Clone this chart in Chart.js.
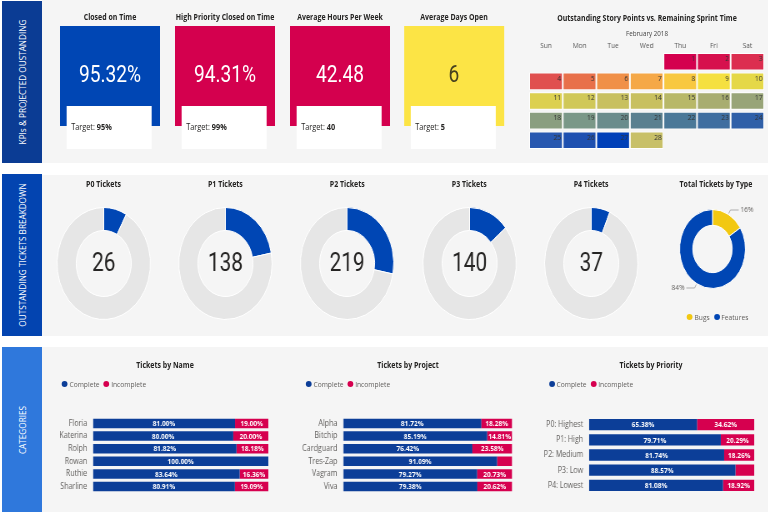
<!DOCTYPE html>
<html>
<head>
<meta charset="utf-8">
<script src="https://cdn.jsdelivr.net/npm/chart.js@4.4.0/dist/chart.umd.min.js"></script>
<style>
body { margin: 0; width: 768px; height: 512px; background: #fff; position: relative; overflow: hidden;
       font-family: "Open Sans", sans-serif; color: #252423; }
.abs { position: absolute; }
.band { position: absolute; left: 42px; width: 726px; background: #f5f5f5; }
.side { position: absolute; left: 2px; width: 40px; }
.side span { position: absolute; left: 50%; top: 50%; transform: translate(-50%, -50%) rotate(-90deg);
             white-space: nowrap; font-size: 8.2px; color: #fff; }
/* hela innehållet ritas 1.2 gånger bredare och trycks sedan ihop, som i originalet */
#stage { position: absolute; left: 0; top: 0; width: 921.6px; height: 512px; transform: scaleX(0.8333333); transform-origin: 0 0; }
.ttl { position: absolute; font-weight: 700; font-size: 8.4px; line-height: 11px; transform: translateX(-50%); white-space: nowrap; color: #252423; }
.sub { position: absolute; font-size: 7.5px; line-height: 9px; transform: translateX(-50%); white-space: nowrap; color: #444; }
.card { position: absolute; height: 100px; top: 26px; }
.card .val { position: absolute; left: 0; right: 0; top: 35px; text-align: center; font-family: Roboto, sans-serif; font-weight: 400; font-size: 23px; line-height: 28px; }
.tgt { position: absolute; height: 43px; top: 106px; background: #fff; }
.tgt span { position: absolute; left: 5px; top: 16px; font-size: 8.8px; line-height: 11px; white-space: nowrap; }
.leg { position: absolute; font-size: 8px; line-height: 10px; color: #605e5c; white-space: nowrap; }
.leg i { display: inline-block; width: 7px; height: 6px; border-radius: 50%; margin: 0 2px 0 0; vertical-align: 0px; }
.leg em { font-style: normal; margin-right: 5px; }
</style>
</head>
<body>
<div class="band" style="top:0;height:163px"></div>
<div class="band" style="top:175px;height:161px"></div>
<div class="band" style="top:347px;height:165px"></div>
<div class="side" style="top:1px;height:162px;background:#0b3c94"><span>KPIs &amp; PROJECTED OUSTANDING</span></div>
<div class="side" style="top:174px;height:162px;background:#0344b0"><span>OUTSTANDING TICKETS BREAKDOWN</span></div>
<div class="side" style="top:347px;height:165px;background:#2f78dc"><span>CATEGORIES</span></div>
<div id="stage"></div>

<script>
// KPI-kort
const kpiTitles = ['Closed on Time', 'High Priority Closed on Time', 'Average Hours Per Week', 'Average Days Open'];
const kpiValues = ['95.32%', '94.31%', '42.48', '6'];
const kpiTargets = ['95%', '99%', '40', '5'];

// Kalender, februari 2018
const weekdayNames = ['Sun', 'Mon', 'Tue', 'Wed', 'Thu', 'Fri', 'Sat'];
const weekRows = ['W1', 'W2', 'W3', 'W4', 'W5'];
const calendarDays = [1, 2, 3, 4, 5, 6, 7, 8, 9, 10, 11, 12, 13, 14, 15, 16, 17, 18, 19, 20, 21, 22, 23, 24, 25, 26, 27, 28];
const dayColors = ['#d4004e', '#d6104d', '#dc2e50', '#e0504f', '#e8704a', '#f09048', '#f5a847', '#f8c840',
                   '#f5e040', '#e5d848', '#dcd050', '#d0c858', '#c8c060', '#c8c060', '#b8b868', '#a8ad70',
                   '#98a478', '#8a9e80', '#7a9888', '#6a8c8c', '#5a8090', '#4a7898', '#3f6ea0', '#3060a8',
                   '#2858b0', '#1e50b0', '#0040b8', '#c8c068'];

// Utestående ärenden per prioritet
const priorityTitles = ['P0 Tickets', 'P1 Tickets', 'P2 Tickets', 'P3 Tickets', 'P4 Tickets'];
const outstandingCounts = [26, 138, 219, 140, 37];
const outstandingShare = [8, 22, 28, 14, 6.5];

// Ärenden per typ
const typeLabels = ['Bugs', 'Features'];
const typeShares = [16, 84];

// Staplar
const seriesNames = ['Complete', 'Incomplete'];
const nameLabels = ['Floria', 'Katerina', 'Rolph', 'Rowan', 'Ruthie', 'Sharline'];
const nameComplete = [81.00, 80.00, 81.82, 100.00, 83.64, 80.91];
const nameIncomplete = [19.00, 20.00, 18.18, 0, 16.36, 19.09];
const projectLabels = ['Alpha', 'Bitchip', 'Cardguard', 'Tres-Zap', 'Vagram', 'Viva'];
const projectComplete = [81.72, 85.19, 76.42, 91.09, 79.27, 79.38];
const projectIncomplete = [18.28, 14.81, 23.58, 8.91, 20.73, 20.62];
const priorityLabels = ['P0: Highest', 'P1: High', 'P2: Medium', 'P3: Low', 'P4: Lowest'];
const priorityComplete = [65.38, 79.71, 81.74, 88.57, 81.08];
const priorityIncomplete = [34.62, 20.29, 18.26, 11.43, 18.92];

const BLUE = '#0046b4';
const DARKBLUE = '#0c3e98';
const RED = '#d6004f';
const YELLOW = '#f2c811';
const SANS = '"Open Sans", sans-serif';
const S = 1.2; // horisontell sträckning

const stage = document.getElementById('stage');
const X = v => v * S;

function add(html) {
    stage.insertAdjacentHTML('beforeend', html);
    return stage.lastElementChild;
}

function canvasBox(left, top, w, h) {
    const box = add(`<div class="abs" style="left:${left}px;top:${top}px;width:${w}px;height:${h}px"><canvas></canvas></div>`);
    return box.querySelector('canvas');
}

const baseOptions = {
    animation: false,
    responsive: true,
    maintainAspectRatio: false,
    plugins: { legend: { display: false }, tooltip: { enabled: false } }
};

// KPI-kort
const cardLeft = [60, 175, 290, 404];
const cardColors = ['#0046b4', '#d4004e', '#d4004e', '#fce445'];
kpiTitles.forEach((title, i) => {
    const x = cardLeft[i];
    add(`<div class="ttl" style="left:${X(x + 50)}px;top:11px">${title}</div>`);
    add(`<div class="card" style="left:${X(x)}px;width:${X(100)}px;background:${cardColors[i]}"><div class="val" style="color:${i === 3 ? '#47421f' : '#fff'}">${kpiValues[i]}</div></div>`);
    add(`<div class="tgt" style="left:${X(x + 7)}px;width:${X(85)}px"><span>Target: <b>${kpiTargets[i]}</b></span></div>`);
});

// Kalendern
add(`<div class="ttl" style="left:${X(647)}px;top:12px">Outstanding Story Points vs. Remaining Sprint Time</div>`);
add(`<div class="sub" style="left:${X(647)}px;top:29px">February 2018</div>`);

const firstWeekday = 4; // 1 feb 2018 var en torsdag
const calendarData = calendarDays.map(day => {
    const pos = day - 1 + firstWeekday;
    return { x: [pos % 7, pos % 7 + 1], y: weekRows[Math.floor(pos / 7)] };
});

const calendarText = {
    id: 'calendarText',
    afterDatasetsDraw(chart) {
        const ctx = chart.ctx;
        const xs = chart.scales.x;
        ctx.save();
        ctx.font = '7.8px ' + SANS;
        ctx.fillStyle = '#555';
        ctx.textAlign = 'center';
        ctx.textBaseline = 'middle';
        weekdayNames.forEach((name, i) => {
            ctx.fillText(name, xs.getPixelForValue(i + 0.5), chart.chartArea.top - 6);
        });
        ctx.fillStyle = '#333';
        ctx.textAlign = 'right';
        ctx.font = '8px ' + SANS;
        chart.getDatasetMeta(0).data.forEach((bar, i) => {
            const p = bar.getProps(['x', 'y', 'height'], true);
            ctx.fillText(String(calendarDays[i]), p.x - 2, p.y - p.height / 2 + 6);
        });
        ctx.restore();
    }
};

new Chart(canvasBox(X(529), 40, X(235), 110), {
    type: 'bar',
    data: {
        labels: weekRows,
        datasets: [{
            data: calendarData,
            backgroundColor: dayColors,
            borderColor: '#ffffff',
            borderWidth: 1,
            borderSkipped: false,
            barPercentage: 0.9,
            categoryPercentage: 1
        }]
    },
    options: {
        ...baseOptions,
        indexAxis: 'y',
        layout: { padding: { top: 12 } },
        scales: {
            x: { type: 'linear', min: 0, max: 7, display: false },
            y: { display: false }
        }
    },
    plugins: [calendarText]
});

// Munkdiagram P0-P4
const centerText = {
    id: 'centerText',
    afterDraw(chart, args, opts) {
        const { ctx, chartArea } = chart;
        ctx.save();
        ctx.font = '400 25px Roboto, sans-serif';
        ctx.fillStyle = '#252423';
        ctx.textAlign = 'center';
        ctx.textBaseline = 'middle';
        ctx.fillText(opts.text, (chartArea.left + chartArea.right) / 2, (chartArea.top + chartArea.bottom) / 2 + 1);
        ctx.restore();
    }
};

priorityTitles.forEach((title, i) => {
    const cx = X(103.5 + i * 121.9);
    add(`<div class="ttl" style="left:${cx}px;top:178px">${title}</div>`);
    new Chart(canvasBox(cx - 56.5, 207, 113, 113), {
        type: 'doughnut',
        data: {
            labels: ['Outstanding', 'Other'],
            datasets: [{
                data: [outstandingShare[i], 100 - outstandingShare[i]],
                backgroundColor: [BLUE, '#e6e6e6'],
                borderColor: '#ffffff',
                borderWidth: 1
            }]
        },
        options: {
            ...baseOptions,
            cutout: '59%',
            plugins: { ...baseOptions.plugins, centerText: { text: String(outstandingCounts[i]) } }
        },
        plugins: [centerText]
    });
});

// Total per typ
const sliceLabels = {
    id: 'sliceLabels',
    afterDraw(chart) {
        const ctx = chart.ctx;
        ctx.save();
        ctx.strokeStyle = '#9a9a9a';
        ctx.fillStyle = '#605e5c';
        ctx.lineWidth = 0.8;
        ctx.font = '8px ' + SANS;
        ctx.textBaseline = 'middle';
        chart.getDatasetMeta(0).data.forEach((arc, i) => {
            const p = arc.getProps(['x', 'y', 'startAngle', 'endAngle', 'outerRadius'], true);
            const a = (p.startAngle + p.endAngle) / 2;
            const right = Math.cos(a) >= 0;
            const x1 = p.x + Math.cos(a) * (p.outerRadius + 1);
            const y1 = p.y + Math.sin(a) * (p.outerRadius + 1);
            const x2 = p.x + Math.cos(a) * (p.outerRadius + 5);
            const y2 = p.y + Math.sin(a) * (p.outerRadius + 5);
            const x3 = x2 + (right ? 10 : -10);
            ctx.beginPath();
            ctx.moveTo(x1, y1);
            ctx.lineTo(x2, y2);
            ctx.lineTo(x3, y2);
            ctx.stroke();
            ctx.textAlign = right ? 'left' : 'right';
            ctx.fillText(typeShares[i] + '%', x3 + (right ? 2 : -2), y2);
        });
        ctx.restore();
    }
};

add(`<div class="ttl" style="left:${X(716)}px;top:178px">Total Tickets by Type</div>`);
new Chart(canvasBox(X(712.5) - 70, 201, 140, 96), {
    type: 'doughnut',
    data: {
        labels: typeLabels,
        datasets: [{ data: typeShares, backgroundColor: [YELLOW, BLUE], borderColor: '#ffffff', borderWidth: 1 }]
    },
    options: { ...baseOptions, cutout: '60%', layout: { padding: 8 } },
    plugins: [sliceLabels]
});
add(`<div class="leg" style="left:${X(687)}px;top:312px"><i style="background:${YELLOW}"></i><em>${typeLabels[0]}</em><i style="background:${BLUE}"></i><em>${typeLabels[1]}</em></div>`);

// Staplade stapeldiagram
const barLabels = {
    id: 'barLabels',
    afterDatasetsDraw(chart) {
        const ctx = chart.ctx;
        ctx.save();
        ctx.font = '700 7.8px ' + SANS;
        ctx.fillStyle = '#ffffff';
        ctx.textAlign = 'center';
        ctx.textBaseline = 'middle';
        chart.data.datasets.forEach((ds, d) => {
            chart.getDatasetMeta(d).data.forEach((bar, i) => {
                const v = ds.data[i];
                if (v < 14) return;
                const p = bar.getProps(['x', 'y', 'base'], true);
                ctx.fillText(v.toFixed(2) + '%', (p.x + p.base) / 2, p.y + 0.5);
            });
        });
        ctx.restore();
    }
};

function stackedBar(title, titleX, legendX, left, width, axisWidth, labels, complete, incomplete) {
    add(`<div class="ttl" style="left:${X(titleX)}px;top:359px">${title}</div>`);
    add(`<div class="leg" style="left:${X(legendX)}px;top:379px"><i style="background:${DARKBLUE}"></i><em>${seriesNames[0]}</em><i style="background:${RED}"></i><em>${seriesNames[1]}</em></div>`);
    new Chart(canvasBox(X(left), 405, X(width), 100), {
        type: 'bar',
        data: {
            labels: labels,
            datasets: [
                { label: seriesNames[0], data: complete, backgroundColor: DARKBLUE, barPercentage: 0.75, categoryPercentage: 1 },
                { label: seriesNames[1], data: incomplete, backgroundColor: RED, barPercentage: 0.75, categoryPercentage: 1 }
            ]
        },
        options: {
            ...baseOptions,
            indexAxis: 'y',
            layout: { padding: { right: 2 } },
            scales: {
                x: { stacked: true, min: 0, max: 100, display: false },
                y: {
                    stacked: true,
                    grid: { display: false, drawTicks: false },
                    border: { display: false },
                    ticks: { color: '#605e5c', font: { family: SANS, size: 8.5 }, padding: 7 },
                    afterFit(scale) { scale.width = X(axisWidth); }
                }
            }
        },
        plugins: [barLabels]
    });
}

stackedBar('Tickets by Name', 165, 62, 45, 225, 48, nameLabels, nameComplete, nameIncomplete);
stackedBar('Tickets by Project', 408, 306, 290, 223, 53, projectLabels, projectComplete, projectIncomplete);
stackedBar('Tickets by Priority', 651, 549, 535, 221, 54, priorityLabels, priorityComplete, priorityIncomplete);
</script>
</body>
</html>
